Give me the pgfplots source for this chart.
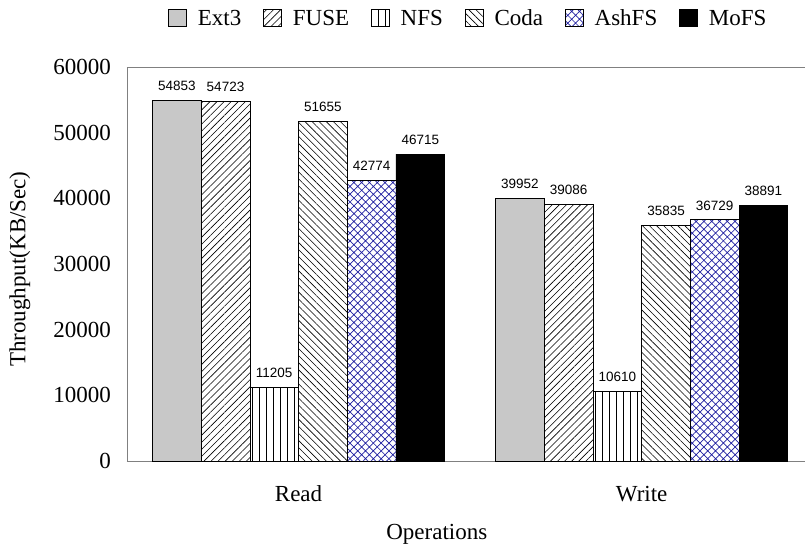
\documentclass[border=0pt]{standalone}
\usepackage{fontspec}
\setmainfont{Liberation Serif}
\newfontfamily\arialfont{Liberation Sans}
\usepackage{pgfplots}
\pgfplotsset{compat=1.18}
\usetikzlibrary{patterns.meta}
\definecolor{extgray}{RGB}{200,200,200}
\definecolor{ashblue}{RGB}{30,30,160}
\definecolor{axgray}{RGB}{128,128,128}

\begin{document}
\begin{tikzpicture}
\path[use as bounding box] (-127pt,-91pt) rectangle (678pt,461pt);
\begin{axis}[
  scale only axis, width=678pt, height=394pt,
  xmin=-0.5, xmax=1.476, ymin=0, ymax=60000,
  ybar=0pt, bar width=48.7pt,
  xtick={0,1}, xticklabels={Read,Write},
  ytick={0,10000,...,60000},
  scaled y ticks=false,
  /pgf/number format/1000 sep={},
  /pgf/number format/assume math mode=true,
  major tick length=0pt,
  axis x line*=bottom, axis y line*=left,
  axis line style={axgray, line width=0.8pt},
  extra y ticks={60000}, extra y tick labels={},
  extra y tick style={grid=major, major grid style={axgray, line width=0.8pt}},
  tick label style={font=\fontsize{23}{27}\selectfont},
  xticklabel style={anchor=center, yshift=-33pt},
  yticklabel style={anchor=east, inner sep=0pt, xshift=-16pt},
  xlabel={Operations},
  ylabel={Throughput(KB/Sec)},
  every axis x label/.style={at={(axis description cs:0.457,-0.185)}, anchor=center, font=\fontsize{23}{27}\selectfont},
  every axis y label/.style={at={(axis description cs:-0.158,0.487)}, anchor=center, rotate=90, font=\fontsize{23}{27}\selectfont},
  nodes near coords,
  every node near coord/.append style={font=\arialfont\fontsize{13.5}{16}\selectfont, yshift=6pt, black},
  legend style={at={(rel axis cs:0.502,1.124)}, anchor=center, draw=none, fill=none,
    font=\fontsize{23}{27}\selectfont,
    /tikz/every odd column/.append style={column sep=11pt},
    /tikz/every even column/.append style={column sep=22pt},
    nodes={inner sep=0pt}},
  legend columns=6,
  legend image code/.code={\draw[#1, draw=black, line width=0.6pt] (0pt,-8.5pt) rectangle (18pt,8.5pt);},
  every axis plot/.append style={line width=0.7pt},
  clip=false,
]
\addplot[draw=black, fill=extgray] coordinates {(0,54853) (1,39952)};
\addlegendentry{Ext3}
\addplot[draw=black, pattern={Lines[angle=45,distance=5pt,line width=0.6pt]}] coordinates {(0,54723) (1,39086)};
\addlegendentry{FUSE}
\addplot[draw=black, pattern={Lines[angle=90,distance=7pt,line width=0.6pt]}] coordinates {(0,11205) (1,10610)};
\addlegendentry{NFS}
\addplot[draw=black, pattern={Lines[angle=-45,distance=5pt,line width=0.6pt]}] coordinates {(0,51655) (1,35835)};
\addlegendentry{Coda}
\addplot[draw=black, pattern={Hatch[angle=45,distance=5.5pt,line width=0.7pt]}, pattern color=ashblue] coordinates {(0,42774) (1,36729)};
\addlegendentry{AshFS}
\addplot[draw=black, fill=black] coordinates {(0,46715) (1,38891)};
\addlegendentry{MoFS}
\end{axis}
\end{tikzpicture}
\end{document}
